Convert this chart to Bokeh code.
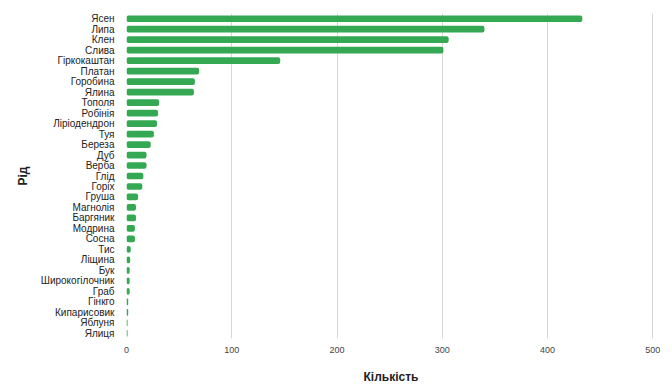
from bokeh.plotting import figure
from bokeh.models import ColumnDataSource, FactorRange, Range1d, FixedTicker
from bokeh.embed import file_html
from bokeh.resources import INLINE

genera = ["Ясен", "Липа", "Клен", "Слива", "Гіркокаштан", "Платан", "Горобина", "Ялина",
          "Тополя", "Робінія", "Ліріодендрон", "Туя", "Береза", "Дуб", "Верба", "Глід",
          "Горіх", "Груша", "Магнолія", "Баргяник", "Модрина", "Сосна", "Тис", "Ліщина",
          "Бук", "Широкогілочник", "Граб", "Гінкго", "Кипарисовик", "Яблуня", "Ялиця"]
counts = [433, 340, 306, 301, 146, 69, 65, 64,
          31, 30, 29, 26, 23, 19, 19, 16,
          15, 11, 9, 9, 8, 8, 4, 3.5,
          3, 3, 3, 1.6, 1.6, 1, 1]
x_ticks = [0, 100, 200, 300, 400, 500]

src = ColumnDataSource(dict(genus=genera, count=counts))

p = figure(width=672, height=388, output_backend="svg", toolbar_location=None,
           y_range=FactorRange(factors=list(reversed(genera))),
           x_range=Range1d(0, 502.5),
           min_border_left=126, min_border_right=17, min_border_top=13, min_border_bottom=50)

p.hbar(y="genus", right="count", left=0, height=0.64, source=src,
       fill_color="#34a853", line_color=None, border_radius=2)

p.outline_line_color = None
p.ygrid.grid_line_color = None
p.xgrid.grid_line_color = "#d6d6d6"
p.xgrid.grid_line_width = 1
p.xaxis.ticker = FixedTicker(ticks=x_ticks)

for ax in (p.xaxis, p.yaxis):
    ax.axis_line_color = None
    ax.major_tick_line_color = None
    ax.minor_tick_line_color = None
    ax.major_label_text_font = "Liberation Sans"
    ax.axis_label_text_font = "Liberation Sans"
    ax.axis_label_text_font_style = "bold"
    ax.axis_label_text_font_size = "12px"
    ax.axis_label_text_color = "#222222"

p.xaxis.major_label_text_font_size = "9px"
p.xaxis.major_label_text_color = "#444444"
p.xaxis.major_label_standoff = 2
p.xaxis.axis_label = "Кількість"
p.xaxis.axis_label_standoff = 14

p.yaxis.major_label_text_font_size = "10px"
p.yaxis.major_label_text_color = "#222222"
p.yaxis.major_label_standoff = 6
p.yaxis.axis_label = "Рід"
p.yaxis.axis_label_standoff = 8

open("out.html", "w").write(file_html(p, INLINE))
